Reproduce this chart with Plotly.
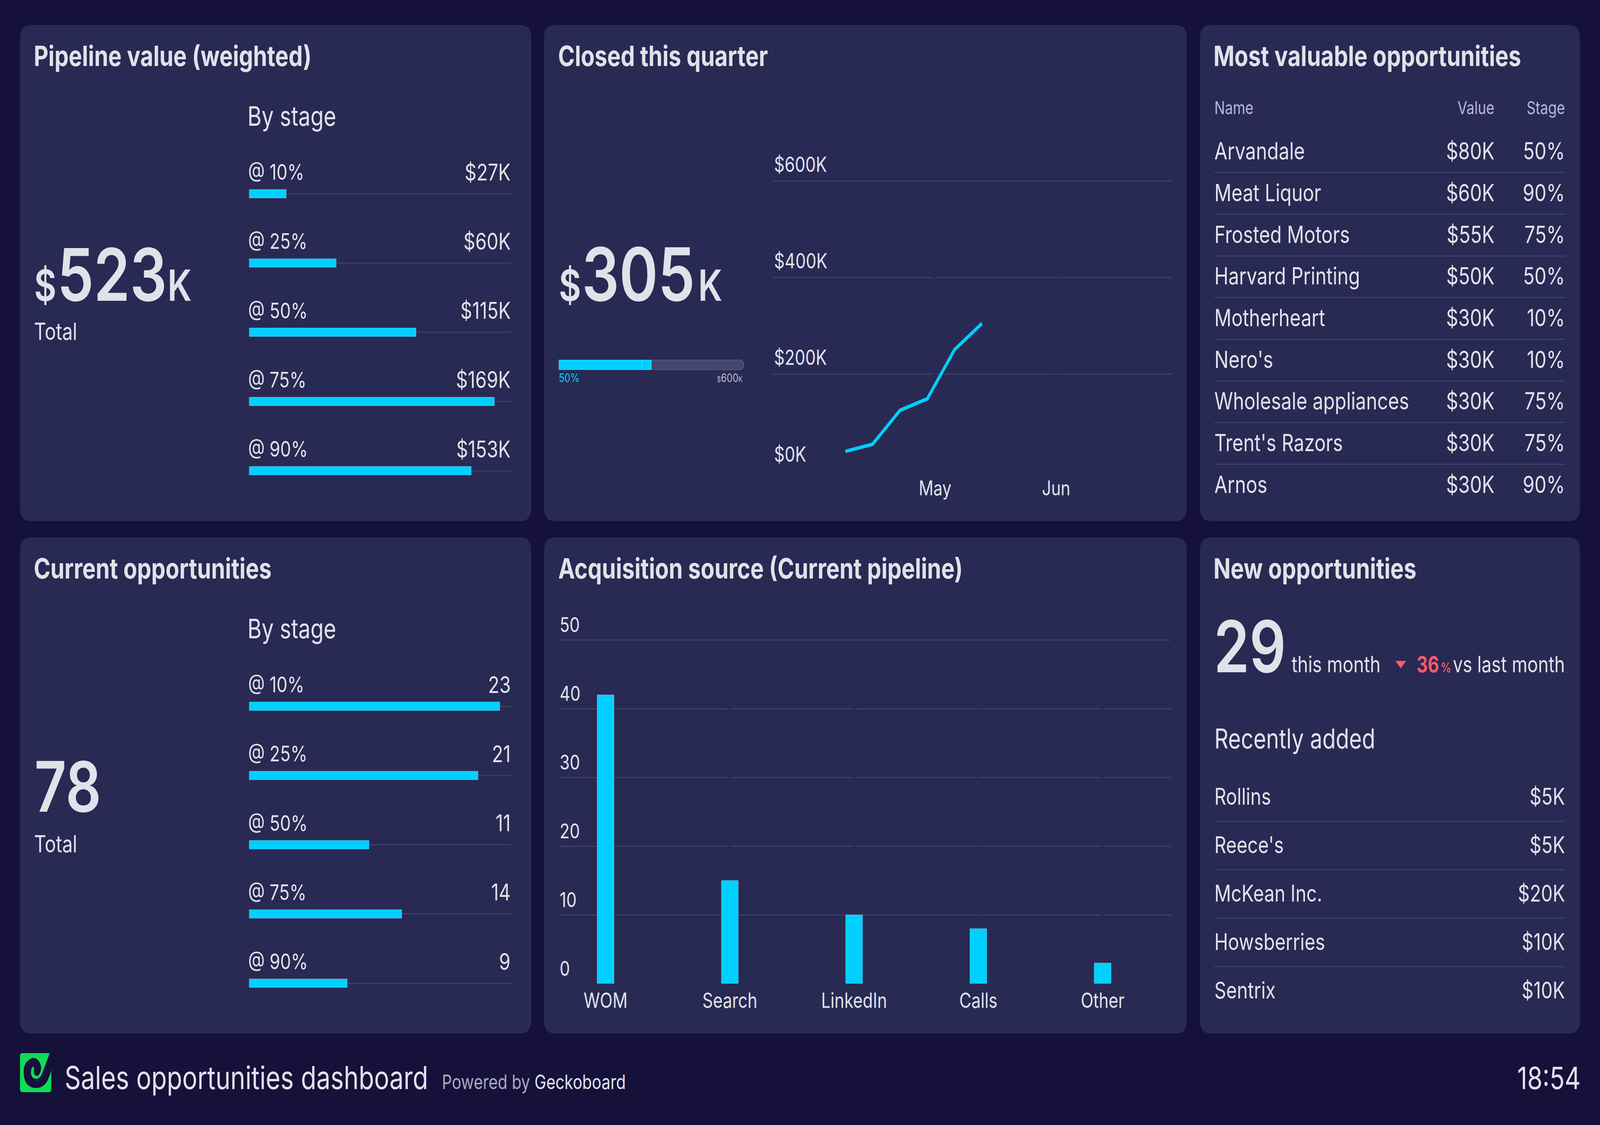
import plotly.graph_objects as go

W, H = 5120, 2880
FONT = "Inter"
PAGE = "#15113b"
PANEL = "#282a54"
TEXT = "#e1e2e9"
MUTED = "#b4b8d8"
GRID = "#3e3f66"
CYAN = "#00d0ff"
RED = "#fb5a6a"

# pipeline value (weighted) and current opportunities
stages = ["@ 10%", "@ 25%", "@ 50%", "@ 75%", "@ 90%"]
pipeline_values = [25.6, 60, 115, 169, 153]
pipeline_labels = ["$27K", "$60K", "$115K", "$169K", "$153K"]
current_values = [23, 21, 11, 14, 9]

# closed this quarter
closed_dates = ["2019-04-08", "2019-04-15", "2019-04-22", "2019-04-29", "2019-05-06", "2019-05-13"]
closed_values = [40, 55, 125, 149, 251, 305]
closed_ticks = [0, 200, 400, 600]
closed_labels = ["$0K", "$200K", "$400K", "$600K"]
month_ticks = ["2019-05-01", "2019-06-01"]
closed_goal = 600
closed_done = 300

# most valuable opportunities
table_names = ["Arvandale", "Meat Liquor", "Frosted Motors", "Harvard Printing", "Motherheart",
               "Nero's", "Wholesale appliances", "Trent's Razors", "Arnos"]
table_values = ["$80K", "$60K", "$55K", "$50K", "$30K", "$30K", "$30K", "$30K", "$30K"]
table_stages = ["50%", "90%", "75%", "50%", "10%", "10%", "75%", "75%", "90%"]

# acquisition source
source_names = ["WOM", "Search", "LinkedIn", "Calls", "Other"]
source_values = [42, 15, 10, 8, 3]
source_ticks = [0, 10, 20, 30, 40, 50]

# recently added
recent_names = ["Rollins", "Reece's", "McKean Inc.", "Howsberries", "Sentrix"]
recent_values = ["$5K", "$5K", "$20K", "$10K", "$10K"]


def dom_x(a, b):
    return [a / W, b / W]


def dom_y(top, bottom):
    return [1 - bottom / H, 1 - top / H]


def rounded(x0, y0, x1, y1, r):
    rx, ry = r / W, r / H
    a, b, c, d = x0 / W, x1 / W, 1 - y0 / H, 1 - y1 / H
    return (f"M{a + rx},{c} L{b - rx},{c} Q{b},{c} {b},{c - ry} L{b},{d + ry} Q{b},{d} {b - rx},{d} "
            f"L{a + rx},{d} Q{a},{d} {a},{d + ry} L{a},{c - ry} Q{a},{c} {a + rx},{c} Z")


shapes = []
for x0, x1 in [(64, 1700), (1741, 3798), (3840, 5056)]:
    for y0, y1 in [(64, 1334), (1376, 2646)]:
        shapes.append(dict(type="path", path=rounded(x0, y0, x1, y1, 34), fillcolor=PANEL,
                           line_width=0, layer="below", xref="paper", yref="paper"))

annotations = []


# text placed by its baseline, in page pixels
def note(x, base, text, size, color=TEXT, anchor="left", weight=400):
    annotations.append(dict(x=x / W, y=1 - (base - 0.364 * size) / H, xref="paper", yref="paper",
                            text=text, showarrow=False, xanchor=anchor, yanchor="middle",
                            font=dict(family=FONT, size=size, color=color, weight=weight),
                            borderpad=0, borderwidth=0))


fig = go.Figure()

# stage bars, one chart per left panel
for n, values, labels, rng, off in [("", pipeline_values, pipeline_labels, 180.6, 0),
                                    ("2", current_values, [str(v) for v in current_values], 24.05, 1312)]:
    fig.add_trace(go.Bar(x=values, y=stages, orientation="h", width=0.124, marker_color=CYAN,
                         xaxis="x" + n, yaxis="y" + n))
    fig.update_layout({
        "xaxis" + n: dict(domain=dom_x(797, 1636), range=[0, rng], visible=False, anchor="y" + n),
        "yaxis" + n: dict(domain=dom_y(407.4 + off, 1293.7 + off), range=[4.5, -0.5], type="category",
                          categoryorder="array", categoryarray=stages, showgrid=True, gridcolor=GRID,
                          gridwidth=3, showticklabels=False, ticks="", zeroline=False, showline=False,
                          anchor="x" + n),
    })
    for stage, label in zip(stages, labels):
        annotations.append(dict(x=0, y=stage, xref="x" + n + " domain", yref="y" + n, text=stage,
                                showarrow=False, xanchor="left", yanchor="middle", yshift=56, xshift=-5,
                                font=dict(family=FONT, size=55, color=TEXT)))
        annotations.append(dict(x=1, y=stage, xref="x" + n + " domain", yref="y" + n, text=label,
                                showarrow=False, xanchor="right", yanchor="middle", yshift=56,
                                font=dict(family=FONT, size=59, color=TEXT)))

# progress towards the goal
fig.add_trace(go.Bar(x=[closed_goal], y=["goal"], orientation="h", marker=dict(color="#45466e", cornerradius=13),
                     width=1, xaxis="x3", yaxis="y3"))
fig.add_trace(go.Bar(x=[closed_done], y=["goal"], orientation="h", marker=dict(color=CYAN, cornerradius=13),
                     width=1, xaxis="x3", yaxis="y3"))
fig.add_trace(go.Bar(x=[closed_done * 0.1], base=[closed_done * 0.9], y=["goal"], orientation="h", marker_color=CYAN,
                     width=1, xaxis="x3", yaxis="y3"))
fig.update_layout(
    xaxis3=dict(domain=dom_x(1788, 2380), range=[0, closed_goal], visible=False, anchor="y3"),
    yaxis3=dict(domain=dom_y(921, 947), range=[-0.5, 0.5], visible=False, anchor="x3", type="category"),
)

# closed this quarter line
fig.add_trace(go.Scatter(x=closed_dates, y=closed_values, mode="lines", line=dict(color=CYAN, width=9),
                         xaxis="x4", yaxis="y4"))
fig.update_layout(
    xaxis4=dict(domain=dom_x(2474, 3749), type="date", range=["2019-03-20 12:00", "2019-06-30 14:00"],
                tickmode="array", tickvals=month_ticks, tickformat="%b", showgrid=False, zeroline=False,
                ticks="", tickfont=dict(family=FONT, size=52, color=TEXT), ticklabelstandoff=10, anchor="y4"),
    yaxis4=dict(domain=dom_y(340, 1205), range=[0, 700], tickmode="array", tickvals=closed_ticks,
                ticktext=closed_labels, ticklabelposition="inside", ticklabelshift=-42,
                showgrid=True, gridcolor=GRID, gridwidth=3, zeroline=False, ticks="",
                tickfont=dict(family=FONT, size=53, color=TEXT), anchor="x4"),
)
for d in month_ticks:
    shapes.append(dict(type="line", xref="x4", yref="y4", x0=d, x1=d, y0=0, y1=closed_ticks[-1],
                       line=dict(color=PANEL, width=8), layer="between"))

# most valuable table
rows = list(range(len(table_names)))
text_rows = [r + 0.045 for r in rows]
for col, texts, pos in [(0, table_names, "middle right"), (0.799, table_values, "middle left"),
                        (1, table_stages, "middle left")]:
    fig.add_trace(go.Scatter(x=[col] * len(rows), y=text_rows, text=texts, mode="text", textposition=pos,
                             textfont=dict(family=FONT, size=60.5, color=TEXT), cliponaxis=False,
                             xaxis="x5", yaxis="y5"))
fig.update_layout(
    xaxis5=dict(domain=dom_x(3886, 5008), range=[0, 1], visible=False, anchor="y5"),
    yaxis5=dict(domain=dom_y(335, 1295), range=[8.5, -0.5], tickmode="array",
                tickvals=[r - 0.5 for r in rows], showgrid=True, gridcolor=GRID, gridwidth=3,
                showticklabels=False, zeroline=False, ticks="", anchor="x5"),
)

# acquisition source bars
fig.add_trace(go.Bar(x=source_names, y=source_values, width=54 / 397.6, marker_color=CYAN, xaxis="x6", yaxis="y6"))
fig.update_layout(
    xaxis6=dict(domain=dom_x(1788, 3747), type="category", range=[-0.377, 4.55], showgrid=False, zeroline=False,
                ticks="", tickfont=dict(family=FONT, size=53, color=TEXT), ticklabelstandoff=8, anchor="y6"),
    yaxis6=dict(domain=dom_y(1550, 2518), range=[0, 55], tickmode="array", tickvals=source_ticks,
                ticklabelposition="inside", ticklabelshift=-38, showgrid=True, gridcolor=GRID, gridwidth=3,
                zeroline=False, ticks="", tickfont=dict(family=FONT, size=52, color=TEXT), anchor="x6"),
)
for name in source_names:
    shapes.append(dict(type="line", xref="x6", yref="y6", x0=name, x1=name, y0=0, y1=source_ticks[-1],
                       line=dict(color=PANEL, width=8), layer="between"))

# recently added list
recent_rows = list(range(len(recent_names)))
recent_text_rows = [r + 0.04 for r in recent_rows]
for col, texts, pos in [(0, recent_names, "middle right"), (1, recent_values, "middle left")]:
    fig.add_trace(go.Scatter(x=[col] * len(recent_rows), y=recent_text_rows, text=texts, mode="text", textposition=pos,
                             textfont=dict(family=FONT, size=59, color=TEXT), cliponaxis=False,
                             xaxis="x7", yaxis="y7"))
fig.update_layout(
    xaxis7=dict(domain=dom_x(3886, 5008), range=[0, 1], visible=False, anchor="y7"),
    yaxis7=dict(domain=dom_y(1978, 2598), range=[4.5, -0.5], tickmode="array",
                tickvals=[r + 0.5 for r in recent_rows[:-1]], showgrid=True, gridcolor=GRID, gridwidth=3,
                showticklabels=False, zeroline=False, ticks="", anchor="x7"),
)

# panel titles
for x, base, title in [(108, 169, "Pipeline value (weighted)"), (1786, 169, "Closed this quarter"),
                       (3883, 169, "Most valuable opportunities"), (108, 1481, "Current opportunities"),
                       (1786, 1481, "Acquisition source (Current pipeline)"), (3883, 1481, "New opportunities")]:
    note(x, base, title, 72, weight=700)

# big numbers
note(109, 770, "$", 110, weight=600)
note(183, 770, "523", 186, weight=600)
note(536, 770, "K", 110, weight=600)
note(109, 870, "Total", 60)
note(1788, 770, "$", 110, weight=600)
note(1862, 770, "305", 188, weight=600)
note(2234, 770, "K", 110, weight=600)
note(110, 2078, "78", 178, weight=600)
note(109, 2182, "Total", 60)
note(792, 322, "By stage", 69)
note(792, 1634, "By stage", 69)

# progress captions
note(1788, 978, "50%", 30, color=CYAN)
note(2377, 978, '<span style="font-size:20px">$</span>600<span style="font-size:20px">K</span>', 30,
     color=MUTED, anchor="right")

# table header
note(3886, 292, "Name", 45, color=MUTED)
note(4782, 292, "Value", 45, color=MUTED, anchor="right")
note(5008, 292, "Stage", 45, color=MUTED, anchor="right")

# new opportunities header
note(3884, 1721, "29", 183, weight=600)
note(4133, 1721, "this month", 57.5)
note(4533, 1721, "36", 56, color=RED, weight=700)
note(4610, 1721, "%", 34, color=RED, weight=600)
note(5008, 1721, "vs last month", 57, anchor="right")
note(3886, 1916, "Recently added", 70)
tx0, tx1, ty0, ty1 = 4465 / W, 4500 / W, 1 - 1692 / H, 1 - 1711 / H
shapes.append(dict(type="path", xref="paper", yref="paper", fillcolor=RED, line_width=0,
                   path=f"M{tx0},{ty0} L{tx1},{ty0} L{(tx0 + tx1) / 2},{ty1} Z"))

# footer
note(207, 2788, "Sales opportunities dashboard", 80.7, weight=400)
note(1414, 2788, 'Powered by <span style="color:#e1e2e9">Geckoboard</span>', 50.5, color="#a9a9bd")
note(5058, 2788, "18:54", 79, anchor="right")


# logo: green square with the spiral cut out of it
def lg(x, y):
    return f"{(64 + (x - 42) / 3) / W},{1 - (2696 + (y - 48) / 3) / H}"


spiral = [(342, 180), (322, 235), (288, 285), (245, 310), (190, 318), (140, 308), (100, 280), (82, 240), (76, 195),
          (80, 155), (100, 118), (150, 85), (190, 85), (222, 105), (246, 145), (244, 185), (222, 218), (200, 225),
          (180, 212), (172, 190), (180, 165), (172, 152), (158, 152), (145, 190), (150, 220), (170, 243), (205, 248),
          (240, 232), (262, 190)]
path = "M" + lg(*spiral[0])
for i in range(1, len(spiral) - 1):
    mx = (spiral[i][0] + spiral[i + 1][0]) / 2
    my = (spiral[i][1] + spiral[i + 1][1]) / 2
    path += f" Q{lg(*spiral[i])} {lg(mx, my)}"
path += " L" + lg(262, 190) + " L" + lg(322, 60) + " L" + lg(324, 46) + " L" + lg(345, 46) + " L" + lg(345, 180) + " Z"
shapes.append(dict(type="path", path=rounded(64, 2696, 164, 2796, 8), fillcolor="#10db55", line_width=0,
                   xref="paper", yref="paper", layer="below"))
shapes.append(dict(type="path", path=path, fillcolor=PAGE, line_width=0, xref="paper", yref="paper", layer="below"))

fig.update_traces(hoverinfo="skip")
fig.update_layout(
    width=W, height=H, autosize=False, margin=dict(l=0, r=0, t=0, b=0, pad=0),
    paper_bgcolor=PAGE, plot_bgcolor="rgba(0,0,0,0)", showlegend=False, barmode="overlay",
    font=dict(family=FONT, color=TEXT), shapes=shapes, annotations=annotations,
)
# the figure is laid out at 5120x2880; fit it to whatever window the page actually gets
fig.write_html(
    "out.html",
    config=dict(displayModeBar=False),
    post_script=(
        "document.body.style.margin='0';document.documentElement.style.overflow='hidden';"
        "var gd=document.getElementById('{plot_id}');gd.style.transformOrigin='0 0';"
        f"gd.style.transform='scale('+window.innerWidth/{W}+','+window.innerHeight/{H}+')';"
    ),
)
